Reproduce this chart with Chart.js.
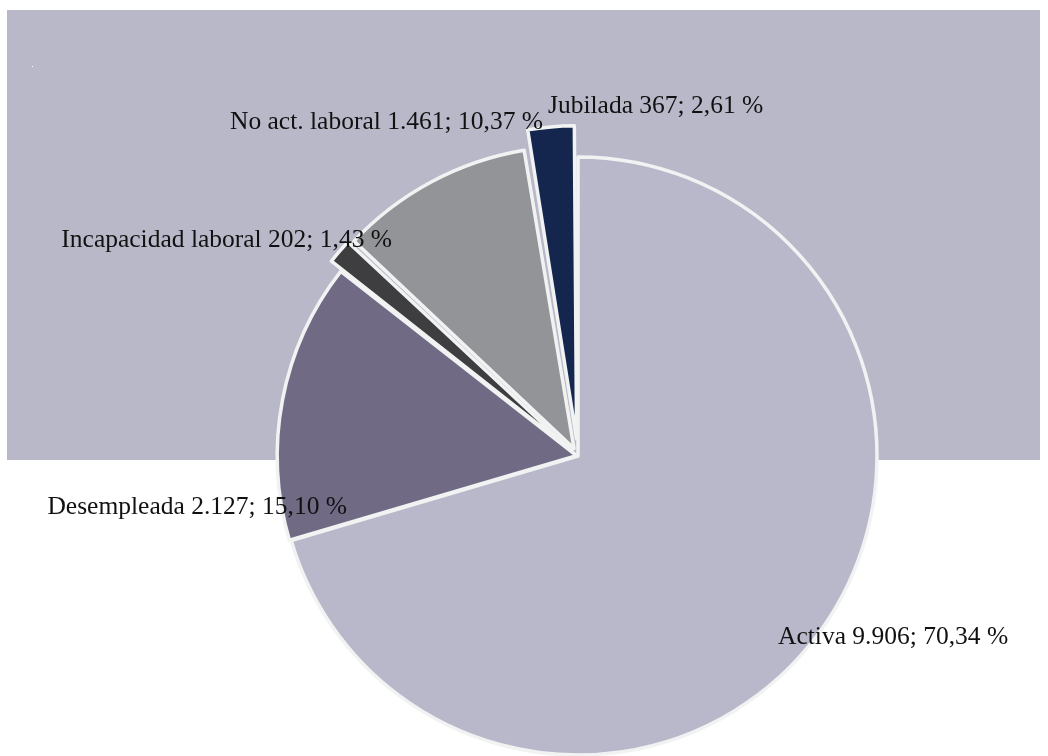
<!DOCTYPE html>
<html>
<head>
<meta charset="utf-8">
<script src="https://cdn.jsdelivr.net/npm/chart.js@4"></script>
<style>
    html, body { margin: 0; padding: 0; background: #ffffff; }
    #wrap { width: 1048px; height: 756px; position: relative; }
</style>
</head>
<body>
<div id="wrap"><canvas id="pieChart" width="1048" height="756"></canvas></div>
<script>
// datos del gráfico
const categorias = ['Activa', 'Desempleada', 'Incapacidad laboral', 'No act. laboral', 'Jubilada'];
const personas = [9906, 2127, 202, 1461, 367];
const porcentajes = [70.34, 15.10, 1.43, 10.37, 2.61];
const colores = ['#b9b8ca', '#706a85', '#3e3e40', '#939497', '#14254e'];
// Chart.js aplica aprox. la mitad del offset en porciones chicas
const desplazamientos = [0, 6, 32, 34, 68];

// donde va cada etiqueta respecto al centro de la torta (px) y su alineación
const etiquetas = [
    { dx: 200, dy: 181, align: 'left' },
    { dx: -231, dy: 51, align: 'right' },
    { dx: -186, dy: -216, align: 'right' },
    { dx: -35, dy: -334, align: 'right' },
    { dx: -30, dy: -350, align: 'left' },
];

const fmtMiles = (n) => String(n).replace(/\B(?=(\d{3})+(?!\d))/g, '.');
const fmtPct = (p) => p.toFixed(2).replace('.', ',') + ' %';

const fondoPlugin = {
    id: 'fondo',
    beforeDraw(chart) {
        const ctx = chart.ctx;
        ctx.save();
        ctx.fillStyle = '#b9b8c9';
        ctx.fillRect(7, 10, 1033, 450);
        ctx.fillStyle = '#ffffff';
        ctx.fillRect(32, 66, 1, 1);
        ctx.restore();
    },
};

const etiquetasPlugin = {
    id: 'etiquetas',
    afterDatasetsDraw(chart) {
        const ctx = chart.ctx;
        const arcs = chart.getDatasetMeta(0).data;
        const cx = arcs[0].x;
        const cy = arcs[0].y;
        ctx.save();
        ctx.font = '25.5px "Liberation Serif", "Times New Roman", serif';
        ctx.fillStyle = '#111111';
        ctx.textBaseline = 'middle';
        categorias.forEach((cat, i) => {
            const e = etiquetas[i];
            ctx.textAlign = e.align;
            const texto = `${cat} ${fmtMiles(personas[i])}; ${fmtPct(porcentajes[i])}`;
            ctx.fillText(texto, cx + e.dx, cy + e.dy);
        });
        ctx.restore();
    },
};

new Chart(document.getElementById('pieChart').getContext('2d'), {
    type: 'pie',
    data: {
        labels: categorias,
        datasets: [{
            data: personas,
            backgroundColor: colores,
            borderColor: '#f1f3f3',
            borderWidth: 3.5,
            borderJoinStyle: 'round',
            offset: desplazamientos,
        }],
    },
    options: {
        responsive: false,
        animation: false,
        radius: 299,
        layout: { padding: { left: 108, right: 0, top: 156, bottom: 0 } },
        plugins: {
            legend: { display: false },
            tooltip: { enabled: false },
            title: { display: false },
        },
    },
    plugins: [fondoPlugin, etiquetasPlugin],
});
</script>
</body>
</html>
